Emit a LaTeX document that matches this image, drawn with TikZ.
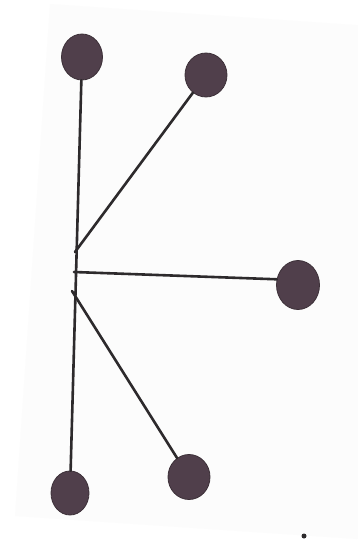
\documentclass[tikz,border=0pt]{standalone}
\usetikzlibrary{shapes.geometric}
\definecolor{blobc}{RGB}{80,63,75}
\definecolor{blobedge}{RGB}{60,48,56}
\definecolor{stickc}{RGB}{45,42,44}
\definecolor{paperc}{RGB}{252,252,252}
\tikzset{
  blob/.style={ellipse, fill=blobc, draw=blobedge, line width=0.8pt, inner sep=0pt},
  stick/.style={draw=stickc, line width=2.6pt, line cap=round},
}
\begin{document}
\begin{tikzpicture}[x=1pt,y=-1pt]
\useasboundingbox (0,0) rectangle (357,541);
\fill[white] (0,0) rectangle (357,541);
\fill[paperc] (50,4) -- (370,26) -- (370,541) -- (357,539) -- (15,516) -- cycle;
% hub points
\coordinate (h1) at (75,252);
\coordinate (h2) at (74,272);
\coordinate (h3) at (72,291);
% blobs
\node[blob, minimum width=41pt, minimum height=46pt] (tl) at (82,57) {};
\node[blob, minimum width=42pt, minimum height=44pt] (tr) at (206,75) {};
\node[blob, minimum width=43pt, minimum height=49pt] (r) at (298,285) {};
\node[blob, minimum width=42pt, minimum height=45pt] (bm) at (189,477) {};
\node[blob, minimum width=38pt, minimum height=44pt] (bl) at (70,493) {};
\node[circle, fill=stickc, inner sep=0pt, minimum size=5pt] (dot) at (304,536) {};
% sticks
\draw[stick] (tl) -- (bl);
\draw[stick] (h1) -- (tr);
\draw[stick] (h2) -- (r.165);
\draw[stick] (h3) -- (bm);
\end{tikzpicture}
\end{document}
